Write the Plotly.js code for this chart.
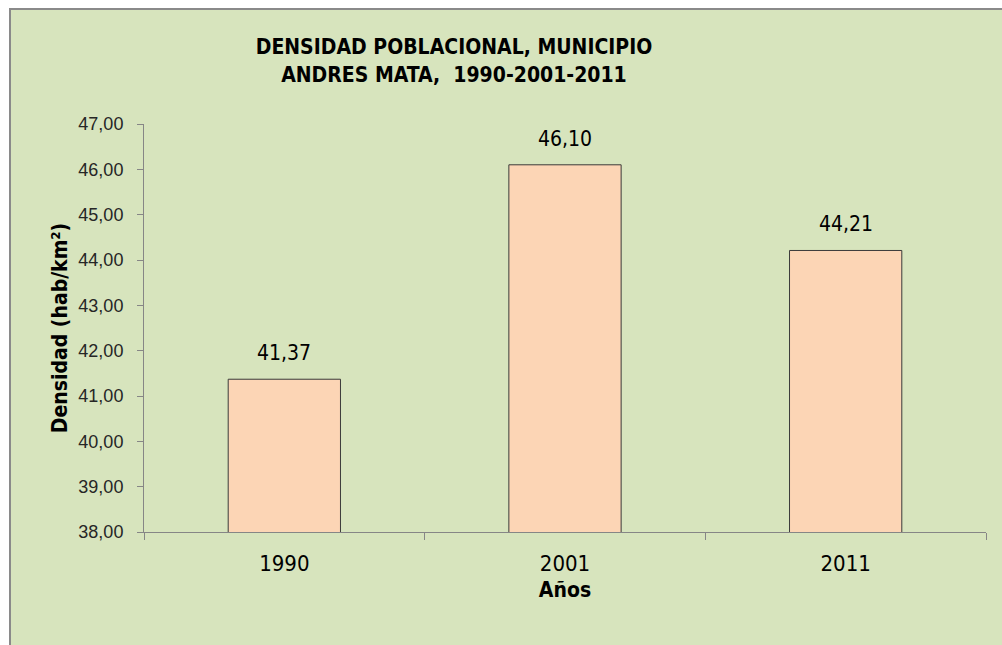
<!DOCTYPE html>
<html>
<head>
<meta charset="utf-8">
<script src="https://cdn.plot.ly/plotly-3.0.1.min.js"></script>
<style>
  html, body { margin: 0; padding: 0; background: #ffffff; width: 1002px; height: 645px; overflow: hidden; }
  #frame { position: absolute; left: 9px; top: 8px; width: 993px; height: 637px;
           border-left: 2px solid #8a8a8a; border-top: 2px solid #8a8a8a; background: #D7E4BD; }
  #chart { position: absolute; left: 0; top: 0; width: 991px; height: 635px; }
</style>
</head>
<body>
<div id="frame"><div id="chart"></div></div>
<script>
const years = ['1990', '2001', '2011'];
const densidad = [41.37, 46.10, 44.21];
const yTickValues = [38, 39, 40, 41, 42, 43, 44, 45, 46, 47];

const narrow = '"Liberation Sans Narrow", "Arial Narrow", "DejaVu Sans Condensed", sans-serif';
const regular = '"Liberation Sans", Arial, sans-serif';

const trace = {
  type: 'bar',
  x: years,
  y: densidad,
  marker: { color: '#FCD5B5', line: { color: '#3a3a3a', width: 1 } },
  hoverinfo: 'x+y'
};

// annotations on a category axis: use the category index
const annotations = years.map((yr, i) => ({
  x: i, y: densidad[i], xref: 'x', yref: 'y',
  text: densidad[i].toFixed(2).replace('.', ','),
  showarrow: false, yanchor: 'bottom', yshift: 12,
  font: { family: narrow, size: 21, color: '#000000' }
}));

const layout = {
  width: 991, height: 635,
  margin: { l: 133, r: 16, t: 114, b: 113 },
  paper_bgcolor: '#D7E4BD',
  plot_bgcolor: '#D7E4BD',
  separators: ',.',
  showlegend: false,
  bargap: 0.6,
  title: {
    text: '<b>DENSIDAD POBLACIONAL, MUNICIPIO<br>ANDRES MATA,  1990-2001-2011</b>',
    x: 0.447, xanchor: 'center', xref: 'container',
    y: 0.93, yanchor: 'top', yref: 'container',
    font: { family: narrow, size: 21, color: '#000000' }
  },
  xaxis: {
    type: 'category',
    categoryorder: 'array', categoryarray: years,
    tickson: 'boundaries',
    tickangle: 0,
    ticks: 'outside', ticklen: 7, tickcolor: '#868686', tickwidth: 1,
    showline: true, linecolor: '#868686', linewidth: 1,
    showgrid: false, zeroline: false,
    ticklabelstandoff: 12,
    tickfont: { family: narrow, size: 22, color: '#000000' },
    title: { text: '<b>Años</b>', standoff: 6, font: { family: narrow, size: 21, color: '#000000' } }
  },
  yaxis: {
    range: [38, 47],
    tickvals: yTickValues,
    tickformat: '.2f',
    ticks: 'outside', ticklen: 6, tickcolor: '#868686', tickwidth: 1,
    showline: true, linecolor: '#868686', linewidth: 1,
    showgrid: false, zeroline: false,
    ticklabelstandoff: 10,
    tickfont: { family: regular, size: 18, color: '#262626' },
    title: { text: '<b>Densidad (hab/km²)</b>', standoff: 5, font: { family: narrow, size: 21, color: '#000000' } }
  },
  annotations: annotations
};

Plotly.newPlot('chart', [trace], layout, { displayModeBar: false, staticPlot: true });
</script>
</body>
</html>
